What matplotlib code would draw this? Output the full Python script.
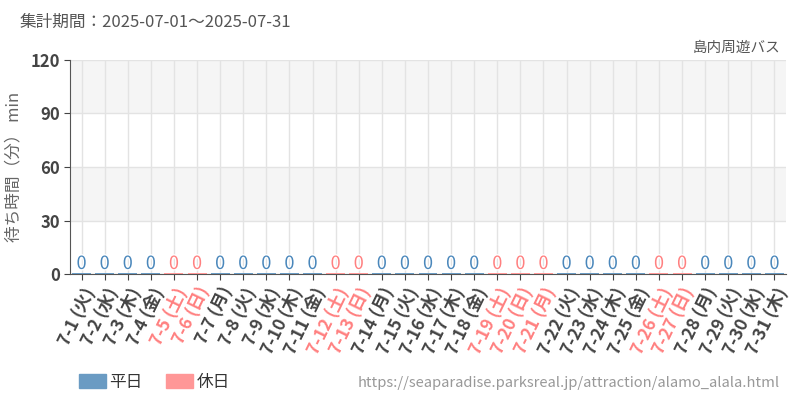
import matplotlib
matplotlib.use("Agg")
import matplotlib.pyplot as plt
from matplotlib.patches import Patch
import matplotlib.patheffects as pe

plt.rcParams['font.family'] = ['Noto Sans CJK JP', 'DejaVu Sans']

dates = [f"7-{d}" for d in range(1, 32)]
weekdays = ["火", "水", "木", "金", "土", "日", "月"]
dows = [weekdays[i % 7] for i in range(31)]
holidays = ["7-5", "7-6", "7-12", "7-13", "7-19", "7-20", "7-21", "7-26", "7-27"]
values = [0] * 31

yticks = [0, 30, 60, 90, 120]

weekday_color = "#6a9bc3"
holiday_color = "#ff9797"
weekday_text = "#4a87bb"
holiday_text = "#ff8080"

fig = plt.figure(figsize=(8, 4), dpi=100)
ax = fig.add_axes([70/800, 126/400, 716/800, 214/400])

x = list(range(len(dates)))
is_hol = [d in holidays for d in dates]
colors = [holiday_color if h else weekday_color for h in is_hol]

# alternating bands
for lo, hi, c in [(0, 30, "white"), (30, 60, "#f5f5f5"), (60, 90, "white"), (90, 120, "#f5f5f5")]:
    ax.axhspan(lo, hi, color=c, zorder=0, lw=0)

ax.bar(x, [v + 0.7 for v in values], width=0.82, color=colors, zorder=3)
for xi, v, h in zip(x, values, is_hol):
    ax.text(xi, v + 0.6, str(v), ha="center", va="bottom",
            fontsize=13, color=holiday_text if h else weekday_text, zorder=4,
            path_effects=[pe.withStroke(linewidth=2, foreground="white")])

ax.set_xlim(-0.5, len(dates) - 0.5)
ax.set_ylim(0, 120)
ax.set_yticks(yticks)
ax.set_yticklabels([str(t) for t in yticks], fontsize=12, color="#444444", fontweight="bold")
ax.set_xticks(x)
ax.set_xticklabels([f"{d} ({w})" for d, w in zip(dates, dows)], rotation=64,
                   ha="right", rotation_mode="anchor", fontsize=12.5, fontweight="bold")
for lbl, h in zip(ax.get_xticklabels(), is_hol):
    lbl.set_color(holiday_text if h else "#444444")

ax.grid(True, color="#e3e3e3", lw=1, zorder=1)
ax.set_axisbelow(True)
for s in ["top", "right"]:
    ax.spines[s].set_visible(False)
ax.spines["left"].set_color("#555555")
ax.spines["bottom"].set_color("#555555")
ax.tick_params(axis="both", length=4, color="#444444")
ax.tick_params(axis="y", pad=3)

ax.set_ylabel("待ち時間（分） min", fontsize=12, color="#666666", labelpad=6)

fig.text(20/800, 1 - 22/400, "集計期間：2025-07-01～2025-07-31", fontsize=12,
         color="#555555", va="center", ha="left")
fig.text(780/800, 1 - 48/400, "島内周遊バス", fontsize=10.5, color="#555555",
         va="center", ha="right")
fig.text(780/800, 1 - 383/400, "https://seaparadise.parksreal.jp/attraction/alamo_alala.html",
         fontsize=10.6, color="#999999", va="center", ha="right")

handles = [Patch(color=weekday_color, label="平日"), Patch(color=holiday_color, label="休日")]
fig.legend(handles=handles, loc="center left", bbox_to_anchor=(64/800, 1 - 382/400),
           ncol=2, frameon=False, fontsize=12, handlelength=1.6, handleheight=0.9,
           handletextpad=0.2, columnspacing=1.45, labelcolor="#333333")

fig.savefig("out.png", dpi=100)
